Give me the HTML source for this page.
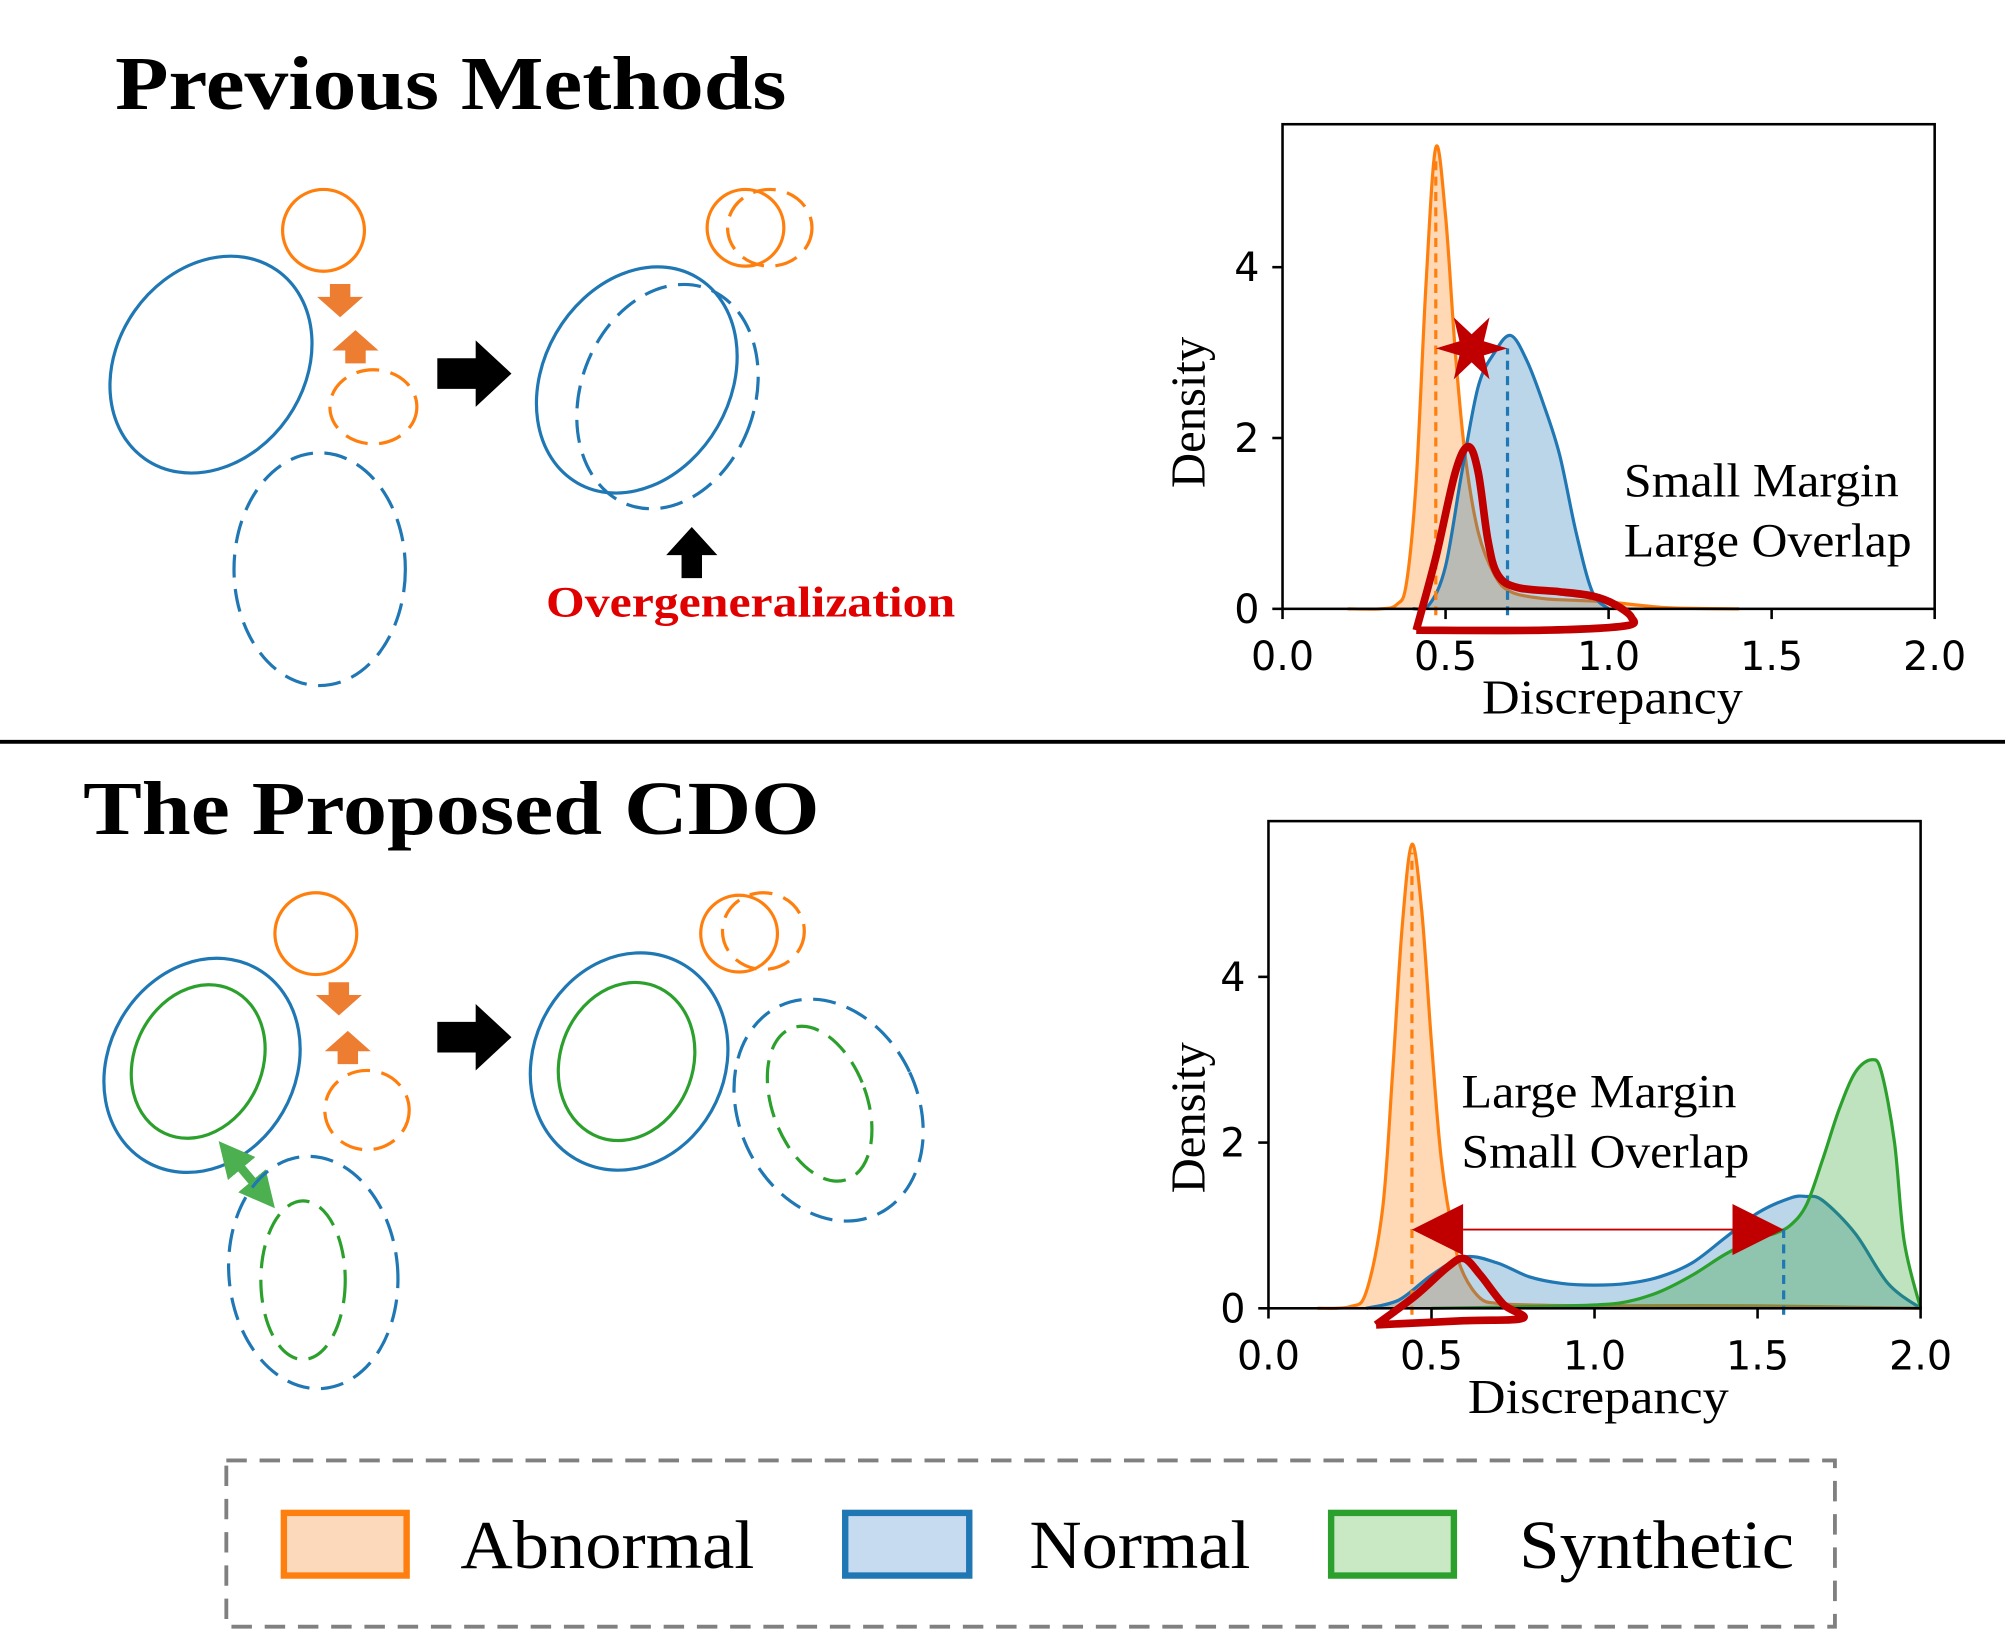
<!DOCTYPE html>
<html><head><meta charset="utf-8"><style>
html,body{margin:0;padding:0;background:#fff}
svg{display:block}
.serif{font-family:"Liberation Serif",serif}
.tick{font-family:"DejaVu Sans",sans-serif;font-size:31px}
</style></head><body>
<svg id="fig" width="2005" height="1632" viewBox="0 0 1568 1276" xmlns="http://www.w3.org/2000/svg">
<defs>
<marker id="ah" viewBox="0 0 10 10" refX="5" refY="5" markerWidth="4" markerHeight="4" orient="auto-start-reverse"><path d="M0,0L10,5L0,10z" fill="#4caf50"/></marker>
</defs>
<g fill="none" stroke-width="2.5">
<text class="serif" x="90" y="85" font-size="60" font-weight="bold" fill="#000" stroke="none" textLength="525" lengthAdjust="spacingAndGlyphs">Previous Methods</text>
<ellipse cx="165" cy="285" rx="73" ry="90" transform="rotate(35 165 285)" stroke="#1f77b4"/>
<circle cx="253" cy="180" r="32" stroke="#ff7f0e"/>
<path d="M258,222h16v10h10l-18,16l-18,-16h10z" fill="#ed7d31" stroke="none"/>
<path d="M278,282h16v-10h10l-18,-16l-18,16h10z" transform="translate(-8,2)" fill="#ed7d31" stroke="none"/>
<ellipse cx="292" cy="318" rx="34" ry="29" stroke="#ff7f0e" stroke-dasharray="18,9"/>
<ellipse cx="250" cy="445" rx="67" ry="91" stroke="#1f77b4" stroke-dasharray="18,9"/>
<path d="M342,280h30v-14l28,26l-28,26v-14h-30z" fill="#000" stroke="none"/>
<ellipse cx="498" cy="297" rx="73" ry="93" transform="rotate(30 498 297)" stroke="#1f77b4"/>
<ellipse cx="522" cy="310" rx="68" ry="90" transform="rotate(20 522 310)" stroke="#1f77b4" stroke-dasharray="18,9"/>
<circle cx="583" cy="178" r="30" stroke="#ff7f0e"/>
<ellipse cx="602" cy="178" rx="33" ry="30" stroke="#ff7f0e" stroke-dasharray="18,9"/>
<path d="M533,452v-18h-12l20,-22l20,22h-12v18z" fill="#000" stroke="none"/>
<text class="serif" x="427" y="482" font-size="34" font-weight="bold" fill="#e00000" stroke="none" textLength="320" lengthAdjust="spacingAndGlyphs">Overgeneralization</text>
</g>
<line x1="0" y1="580" x2="1568" y2="580" stroke="#000" stroke-width="3"/>
<g fill="none" stroke-width="2.5">
<text class="serif" x="65" y="652" font-size="60" font-weight="bold" fill="#000" stroke="none" textLength="576" lengthAdjust="spacingAndGlyphs">The Proposed CDO</text>
<ellipse cx="158" cy="833" rx="73" ry="87" transform="rotate(30 158 833)" stroke="#1f77b4"/>
<ellipse cx="155" cy="830" rx="50" ry="62" transform="rotate(25 155 830)" stroke="#2ca02c"/>
<circle cx="247" cy="730" r="32" stroke="#ff7f0e"/>
<path d="M257,768h16v10h10l-18,16l-18,-16h10z" fill="#ed7d31" stroke="none"/>
<path d="M264,832h16v-10h10l-18,-16l-18,16h10z" fill="#ed7d31" stroke="none"/>
<ellipse cx="287" cy="868" rx="33" ry="31" stroke="#ff7f0e" stroke-dasharray="18,9"/>
<line x1="180" y1="903" x2="206" y2="934" stroke="#4caf50" stroke-width="7" marker-start="url(#ah)" marker-end="url(#ah)"/>
<ellipse cx="245" cy="995" rx="66" ry="91" transform="rotate(-5 245 995)" stroke="#1f77b4" stroke-dasharray="18,9"/>
<ellipse cx="237" cy="1001" rx="33" ry="62" stroke="#2ca02c" stroke-dasharray="18,9"/>
<path d="M342,799h30v-14l28,26l-28,26v-14h-30z" fill="#000" stroke="none"/>
<ellipse cx="492" cy="830" rx="75" ry="87" transform="rotate(25 492 830)" stroke="#1f77b4"/>
<ellipse cx="490" cy="830" rx="52" ry="63" transform="rotate(20 490 830)" stroke="#2ca02c"/>
<ellipse cx="648" cy="868" rx="70" ry="90" transform="rotate(-25 648 868)" stroke="#1f77b4" stroke-dasharray="18,9"/>
<ellipse cx="641" cy="863" rx="37" ry="63" transform="rotate(-20 641 863)" stroke="#2ca02c" stroke-dasharray="18,9"/>
<circle cx="578" cy="730" r="30" stroke="#ff7f0e"/>
<ellipse cx="597" cy="728" rx="32" ry="30" stroke="#ff7f0e" stroke-dasharray="18,9"/>
</g>
<g id="chart1"></g>
<g id="chart2"></g>
<g>
<rect x="177" y="1142" width="1258" height="130" fill="none" stroke="#808080" stroke-width="3" stroke-dasharray="16,10"/>
<rect x="222" y="1183" width="96" height="49" fill="#fdd9bc" stroke="#ff7f0e" stroke-width="5"/>
<text class="serif" x="360" y="1226" font-size="54" textLength="230" lengthAdjust="spacingAndGlyphs">Abnormal</text>
<rect x="661" y="1183" width="97" height="49" fill="#c6dbef" stroke="#1f77b4" stroke-width="5"/>
<text class="serif" x="805" y="1226" font-size="54" textLength="173" lengthAdjust="spacingAndGlyphs">Normal</text>
<rect x="1041" y="1183" width="96" height="49" fill="#c9e8c4" stroke="#2ca02c" stroke-width="5"/>
<text class="serif" x="1188" y="1226" font-size="54" textLength="215" lengthAdjust="spacingAndGlyphs">Synthetic</text>
</g>
</svg>
<script>
const xTicks=[0.0,0.5,1.0,1.5,2.0];
const xTickLabels=["0.0","0.5","1.0","1.5","2.0"];
const yTicks=[0,2,4];
const yTickLabels=["0","2","4"];
// chart 1
const c1AbnX=[0.2,0.3,0.35,0.38,0.41,0.44,0.47,0.5,0.53,0.56,0.6,0.65,0.7,0.8,0.9,1.0,1.1,1.2,1.4];
const c1AbnY=[0,0,0.05,0.3,1.5,3.8,5.4,4.6,3.0,1.8,0.9,0.4,0.2,0.12,0.1,0.08,0.04,0.01,0];
const c1NorX=[0.4,0.45,0.5,0.55,0.6,0.65,0.7,0.75,0.8,0.85,0.9,0.95,1.0];
const c1NorY=[0,0.05,0.5,1.6,2.6,3.0,3.2,2.9,2.4,1.8,0.9,0.2,0];
const c1Means=[0.47,0.69];
const c1MeanTop=[5.3,3.05];
const c1LoopX=[0.41,0.47,0.53,0.57,0.6,0.63,0.66,0.72,0.85,0.95,1.02,1.07,1.05,0.8,0.41];
const c1LoopY=[-0.25,0.6,1.6,1.9,1.6,0.8,0.4,0.25,0.2,0.15,0.05,-0.1,-0.2,-0.25,-0.25];
// chart 2
const c2AbnX=[0.15,0.25,0.3,0.35,0.38,0.41,0.44,0.47,0.5,0.53,0.57,0.6,0.65,0.7,0.8,1.0,1.5,2.0];
const c2AbnY=[0,0.02,0.2,1.2,2.8,4.6,5.6,4.8,3.2,1.8,0.8,0.4,0.12,0.06,0.04,0.03,0.03,0];
const c2NorX=[0.3,0.4,0.5,0.6,0.7,0.8,0.9,1.0,1.1,1.2,1.3,1.4,1.5,1.6,1.65,1.7,1.8,1.9,2.0];
const c2NorY=[0,0.1,0.4,0.62,0.55,0.38,0.3,0.28,0.3,0.38,0.55,0.85,1.15,1.33,1.35,1.3,0.9,0.3,0];
const c2SynX=[0.5,0.8,1.0,1.1,1.2,1.3,1.4,1.5,1.55,1.6,1.65,1.7,1.75,1.8,1.85,1.88,1.92,1.95,2.0];
const c2SynY=[0,0.02,0.04,0.08,0.2,0.4,0.65,0.85,0.9,1.0,1.25,1.8,2.4,2.85,3.0,2.85,2.0,0.8,0];
const c2Means=[0.44,1.58];
const c2MeanTop=[5.5,0.95];
const c2ArrowY=0.95;
const c2LoopX=[0.33,0.45,0.55,0.6,0.65,0.72,0.78,0.6,0.33];
const c2LoopY=[-0.2,0.15,0.5,0.6,0.4,0.05,-0.12,-0.15,-0.2];

const NS="http://www.w3.org/2000/svg";
function mk(g,tag,a,txt){const e=document.createElementNS(NS,tag);for(const k in a)e.setAttribute(k,a[k]);if(txt!==undefined)e.textContent=txt;g.appendChild(e);return e;}
function smoothPath(pts){let d="M"+pts[0][0]+","+pts[0][1];for(let i=0;i<pts.length-1;i++){const p0=pts[Math.max(i-1,0)],p1=pts[i],p2=pts[i+1],p3=pts[Math.min(i+2,pts.length-1)];const c1x=p1[0]+(p2[0]-p0[0])/6,c1y=p1[1]+(p2[1]-p0[1])/6,c2x=p2[0]-(p3[0]-p1[0])/6,c2y=p2[1]-(p3[1]-p1[1])/6;d+="C"+c1x+","+c1y+" "+c2x+","+c2y+" "+p2[0]+","+p2[1];}return d;}
function drawChart(g,L,R,T,Y0,unit,ylx){
  const sx=v=>L+(v/2)*(R-L), sy=v=>Y0-v*unit;
  return {sx,sy,frame(){
    const r=mk(g,'rect',{x:L,y:T,width:R-L,height:Y0+0-T,fill:'none',stroke:'#000','stroke-width':2});
    
    xTicks.forEach((t,i)=>{mk(g,'line',{x1:sx(t),x2:sx(t),y1:Y0,y2:Y0+8,stroke:'#000','stroke-width':2});
      const tx=mk(g,'text',{x:sx(t),y:Y0+48,'text-anchor':'middle',class:'tick'},xTickLabels[i]);
      });
    yTicks.forEach((t,i)=>{mk(g,'line',{x1:L-8,x2:L,y1:sy(t),y2:sy(t),stroke:'#000','stroke-width':2});
      const tx=mk(g,'text',{x:L-18,y:sy(t)+11,'text-anchor':'end',class:'tick'},yTickLabels[i]);
      });
    const xl=mk(g,'text',{x:(L+R)/2+3,y:Y0+82,'text-anchor':'middle',class:'serif','font-size':38,textLength:204,lengthAdjust:'spacingAndGlyphs'},'Discrepancy');
    
    const yl=mk(g,'text',{x:0,y:0,'text-anchor':'middle',class:'serif','font-size':38,transform:`translate(${ylx},${sy(2.3)}) rotate(-90)`},'Density');
    
  },density(xs,ys,fill,stroke,name){
    const pts=xs.map((x,i)=>[sx(x),sy(ys[i])]);
    const d=smoothPath(pts);
    const a=mk(g,'path',{d:d+"L"+sx(xs[xs.length-1])+","+Y0+"L"+sx(xs[0])+","+Y0+"Z",fill:fill,'fill-opacity':0.3,stroke:'none'});
    
    const l=mk(g,'path',{d:d,fill:'none',stroke:stroke,'stroke-width':2.5});
    
  },vline(x,top,color,name){
    const l=mk(g,'line',{x1:sx(x),x2:sx(x),y1:Y0+5,y2:sy(top),stroke:color,'stroke-width':2.5,'stroke-dasharray':'7,5'});
    
  },loop(xs,ys){
    const p=mk(g,'path',{d:smoothPath(xs.map((x,i)=>[sx(x),sy(ys[i])])),fill:'none',stroke:'#c00000','stroke-width':6,'stroke-linejoin':'round'});
    
  }};
}
// chart 1
(function(){
  const g=document.getElementById('chart1');
  const c=drawChart(g,1003,1513,97,476,66.8,942);
  c.density(c1AbnX,c1AbnY,'#ff7f0e','#ff7f0e','abnormal');
  c.density(c1NorX,c1NorY,'#1f77b4','#1f77b4','normal');
  c.vline(c1Means[0],c1MeanTop[0],'#ff7f0e','abnormal-mean-line');
  c.vline(c1Means[1],c1MeanTop[1],'#1f77b4','normal-mean-line');
  c.frame();
  c.loop(c1LoopX,c1LoopY);
  const cx=c.sx((c1Means[0]+c1Means[1])/2), cy=c.sy(c1MeanTop[1]);
  let s="";for(let i=0;i<12;i++){const r=i%2?11:28;const a=Math.PI/6*i;s+=(cx+r*Math.cos(a))+","+(cy+r*Math.sin(a))+" ";}
  const st=mk(g,'polygon',{points:s,fill:'#c00000'});
  
  const t1=mk(g,'text',{x:1270,y:388,class:'serif','font-size':37,textLength:215,lengthAdjust:'spacingAndGlyphs'},'Small Margin');
  
  const t2=mk(g,'text',{x:1270,y:435,class:'serif','font-size':37,textLength:225,lengthAdjust:'spacingAndGlyphs'},'Large Overlap');
  
})();
// chart 2
(function(){
  const g=document.getElementById('chart2');
  const c=drawChart(g,992,1502,642,1023,64.8,942);
  c.density(c2AbnX,c2AbnY,'#ff7f0e','#ff7f0e','abnormal');
  c.density(c2NorX,c2NorY,'#1f77b4','#1f77b4','normal');
  c.density(c2SynX,c2SynY,'#2ca02c','#2ca02c','synthetic');
  c.vline(c2Means[0],c2MeanTop[0],'#ff7f0e','abnormal-mean-line');
  c.vline(c2Means[1],c2MeanTop[1],'#1f77b4','normal-mean-line');
  c.frame();
  c.loop(c2LoopX,c2LoopY);
  const x1=c.sx(c2Means[0]),x2=c.sx(c2Means[1]),y=c.sy(c2ArrowY);
  const ln=mk(g,'line',{x1:x1+40,x2:x2-40,y1:y,y2:y,stroke:'#c00000','stroke-width':1.5});
  
  const h1=mk(g,'polygon',{points:`${x1},${y} ${x1+40},${y-20} ${x1+40},${y+20}`,fill:'#c00000'});
  
  const h2=mk(g,'polygon',{points:`${x2},${y} ${x2-40},${y-20} ${x2-40},${y+20}`,fill:'#c00000'});
  
  const t1=mk(g,'text',{x:1143,y:866,class:'serif','font-size':37,textLength:215,lengthAdjust:'spacingAndGlyphs'},'Large Margin');
  
  const t2=mk(g,'text',{x:1143,y:913,class:'serif','font-size':37,textLength:225,lengthAdjust:'spacingAndGlyphs'},'Small Overlap');
  
})();
</script>
</body></html>
